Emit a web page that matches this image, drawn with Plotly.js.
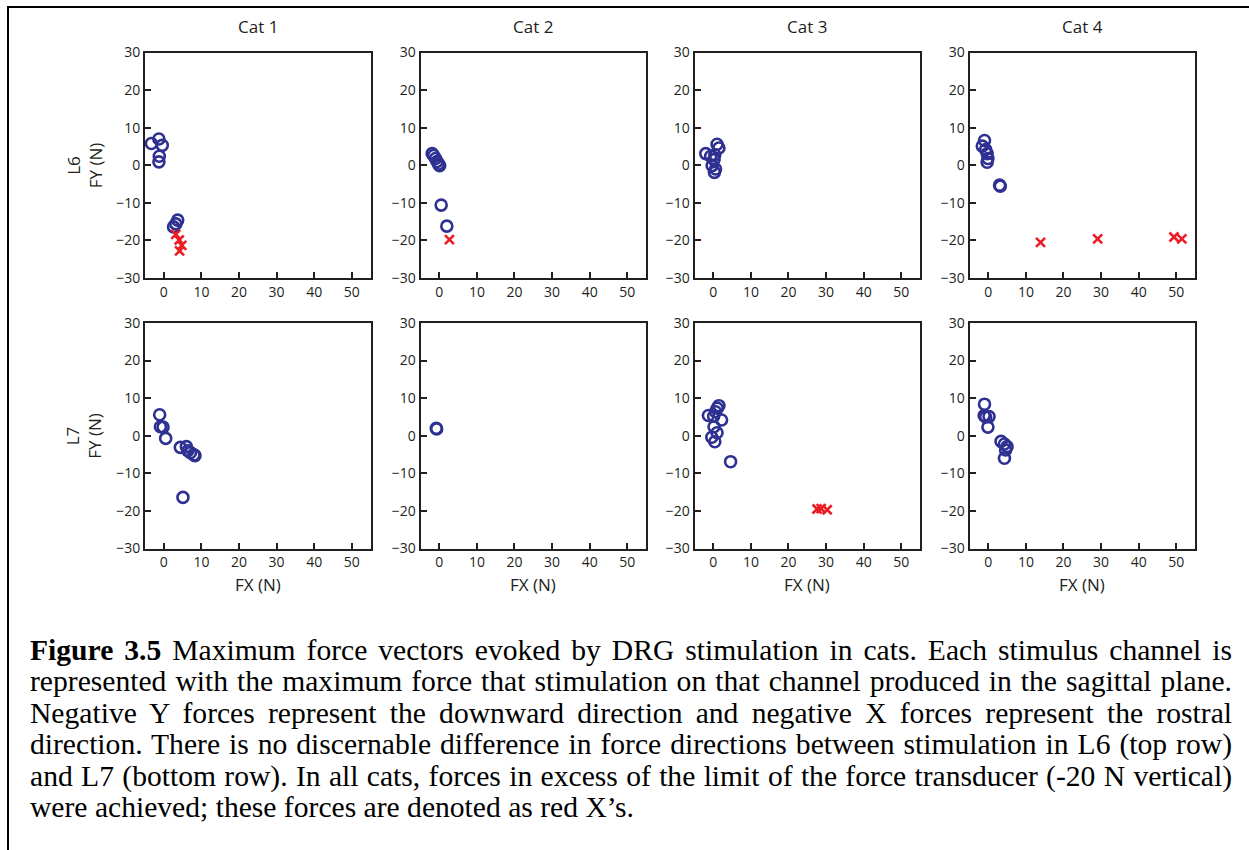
<!DOCTYPE html>
<html>
<head>
<meta charset="utf-8">
<script src="https://cdn.plot.ly/plotly-3.0.1.min.js"></script>
<style>
  html, body { margin: 0; padding: 0; background: #fff; overflow: hidden; }
  #wrap { position: relative; width: 1249px; height: 850px; }
  #chart { position: absolute; left: 0; top: 0; width: 1249px; height: 850px; }
  #frame { position: absolute; left: 7px; top: 6px; right: 0; bottom: 0;
           border-top: 2px solid #000; border-left: 2px solid #000; pointer-events: none; }
  #caption { position: absolute; left: 30px; top: 635px; width: 1202px;
             font-family: "Liberation Serif", "Times New Roman", serif; font-size: 29.6px;
             line-height: 31.4px; color: #000; }
  #caption div { text-align: justify; text-align-last: justify; white-space: normal; }
  #caption div.last { text-align: left; text-align-last: left; }
</style>
</head>
<body>
<div id="wrap">
  <div id="chart"></div>
  <div id="frame"></div>
  <div id="caption">
    <div><b>Figure 3.5</b> Maximum force vectors evoked by DRG stimulation in cats. Each stimulus channel is</div>
    <div>represented with the maximum force that stimulation on that channel produced in the sagittal plane.</div>
    <div>Negative Y forces represent the downward direction and negative X forces represent the rostral</div>
    <div>direction. There is no discernable difference in force directions between stimulation in L6 (top row)</div>
    <div>and L7 (bottom row). In all cats, forces in excess of the limit of the force transducer (-20 N vertical)</div>
    <div class="last">were achieved; these forces are denoted as red X’s.</div>
  </div>
</div>
<script>
// Column and row labels
const cats = ['Cat 1', 'Cat 2', 'Cat 3', 'Cat 4'];
const levels = ['L6', 'L7'];
const xTicks = [0, 10, 20, 30, 40, 50];
const yTicks = [-30, -20, -10, 0, 10, 20, 30];

// L6 channel maxima (N): circles = measured, crosses = beyond transducer limit
const l6Cat1CircFx = [-3.3, -1.3, -0.4, -1.2, -1.3, 3.7, 2.6, 3.2];
const l6Cat1CircFy = [5.8, 7.0, 5.3, 2.4, 0.9, -14.6, -16.4, -15.6];
const l6Cat1CrossFx = [3.2, 4.1, 4.8, 4.2];
const l6Cat1CrossFy = [-18.4, -19.9, -21.3, -22.8];

const l6Cat2CircFx = [-1.9, -1.5, -1.0, -0.6, -0.2, 0.1, 0.5, 2.0];
const l6Cat2CircFy = [3.1, 2.6, 1.8, 1.0, 0.3, -0.1, -10.6, -16.2];
const l6Cat2CrossFx = [2.7];
const l6Cat2CrossFy = [-19.8];

const l6Cat3CircFx = [-2.0, 1.0, 1.5, -0.7, 0.2, 0.4, -0.3, 0.3, 0.6];
const l6Cat3CircFy = [3.1, 5.6, 4.6, 2.4, 1.5, 2.8, -0.1, -1.9, -1.0];
const l6Cat3CrossFx = [];
const l6Cat3CrossFy = [];

const l6Cat4CircFx = [-1.0, -1.6, -0.7, -0.3, -0.1, -0.3, 3.2, 3.0];
const l6Cat4CircFy = [6.6, 5.1, 4.2, 3.1, 1.8, 0.8, -5.6, -5.3];
const l6Cat4CrossFx = [13.9, 29.1, 49.4, 51.5];
const l6Cat4CrossFy = [-20.5, -19.6, -19.1, -19.6];

// L7 channel maxima (N)
const l7Cat1CircFx = [-1.1, -0.9, -0.2, 0.5, 4.4, 6.0, 6.4, 7.1, 8.0, 8.3, 5.1];
const l7Cat1CircFy = [5.6, 2.4, 2.3, -0.7, -3.1, -2.9, -4.0, -4.5, -5.1, -5.3, -16.4];
const l7Cat1CrossFx = [];
const l7Cat1CrossFy = [];

const l7Cat2CircFx = [-0.8, -0.7];
const l7Cat2CircFy = [2.0, 1.8];
const l7Cat2CrossFx = [];
const l7Cat2CrossFy = [];

const l7Cat3CircFx = [-1.3, 1.5, 1.05, 0.6, 0.1, 2.2, 0.2, 1.0, -0.4, 0.4, 4.6];
const l7Cat3CircFy = [5.4, 8.0, 7.3, 6.4, 5.2, 4.2, 2.4, 0.8, -0.4, -1.6, -6.9];
const l7Cat3CrossFx = [27.6, 28.7, 30.3];
const l7Cat3CrossFy = [-19.5, -19.4, -19.7];

const l7Cat4CircFx = [-1.0, -1.1, 0.2, -0.7, -0.1, 3.4, 4.3, 5.0, 4.6, 4.3];
const l7Cat4CircFy = [8.4, 5.4, 5.1, 5.0, 2.3, -1.5, -2.2, -2.9, -3.8, -6.0];
const l7Cat4CrossFx = [];
const l7Cat4CrossFy = [];

const panels = [
  [l6Cat1CircFx, l6Cat1CircFy, l6Cat1CrossFx, l6Cat1CrossFy],
  [l6Cat2CircFx, l6Cat2CircFy, l6Cat2CrossFx, l6Cat2CrossFy],
  [l6Cat3CircFx, l6Cat3CircFy, l6Cat3CrossFx, l6Cat3CrossFy],
  [l6Cat4CircFx, l6Cat4CircFy, l6Cat4CrossFx, l6Cat4CrossFy],
  [l7Cat1CircFx, l7Cat1CircFy, l7Cat1CrossFx, l7Cat1CrossFy],
  [l7Cat2CircFx, l7Cat2CircFy, l7Cat2CrossFx, l7Cat2CrossFy],
  [l7Cat3CircFx, l7Cat3CircFy, l7Cat3CrossFx, l7Cat3CrossFy],
  [l7Cat4CircFx, l7Cat4CircFy, l7Cat4CrossFx, l7Cat4CrossFy]
];

const W = 1249, H = 850;
const colLeft = [145, 420.5, 694.5, 969.5];
const boxW = 225.5;
const rowTop = [52.5, 323];
const boxH = 225.5;

const blue = '#2E3192';
const red = '#ED1C24';
const ink = '#231F20';
const font = '"Open Sans", "Liberation Sans", sans-serif';

const traces = [];
const layout = {
  width: W, height: H,
  margin: {l: 0, r: 0, t: 0, b: 0},
  paper_bgcolor: '#fff', plot_bgcolor: '#fff',
  showlegend: false,
  font: {family: font, color: ink, size: 14},
  annotations: []
};

panels.forEach((p, i) => {
  const r = Math.floor(i / 4), c = i % 4;
  const n = i + 1;
  const xa = n === 1 ? 'x' : 'x' + n;
  const ya = n === 1 ? 'y' : 'y' + n;
  traces.push({
    type: 'scatter', mode: 'markers', x: p[0], y: p[1], xaxis: xa, yaxis: ya,
    marker: {symbol: 'circle-open', size: 11, color: blue, line: {width: 2.6, color: blue}},
    hoverinfo: 'x+y'
  });
  traces.push({
    type: 'scatter', mode: 'markers', x: p[2], y: p[3], xaxis: xa, yaxis: ya,
    marker: {symbol: 'x-thin-open', size: 9, color: red, line: {width: 2.6, color: red}},
    hoverinfo: 'x+y'
  });
  const common = {
    showgrid: false, zeroline: false, showline: true, mirror: true,
    linecolor: ink, linewidth: 2, ticks: 'inside', ticklen: 6, tickwidth: 2,
    tickcolor: ink, tickfont: {family: font, size: 14, color: ink}, fixedrange: true
  };
  layout['xaxis' + (n === 1 ? '' : n)] = Object.assign({}, common, {
    domain: [colLeft[c] / W, (colLeft[c] + boxW) / W],
    range: [-5, 55], tickmode: 'array', tickvals: xTicks, anchor: ya
  });
  layout['yaxis' + (n === 1 ? '' : n)] = Object.assign({}, common, {
    domain: [1 - (rowTop[r] + boxH) / H, 1 - rowTop[r] / H],
    range: [-30, 30], tickmode: 'array', tickvals: yTicks, anchor: xa,
    ticklabelstandoff: 0
  });
});

// Column titles and x-axis titles
cats.forEach((name, c) => {
  layout.annotations.push({
    text: name, xref: 'paper', yref: 'paper',
    x: (colLeft[c] + boxW / 2) / W, y: 1 - 27 / H,
    xanchor: 'center', yanchor: 'middle', showarrow: false,
    font: {family: font, size: 17, color: ink}
  });
  layout.annotations.push({
    text: 'FX (N)', xref: 'paper', yref: 'paper',
    x: (colLeft[c] + boxW / 2) / W, y: 1 - 584 / H,
    xanchor: 'center', yanchor: 'middle', showarrow: false,
    font: {family: font, size: 17, color: ink}
  });
});

// Row titles
levels.forEach((lv, r) => {
  layout.annotations.push({
    text: lv + '<br>FY (N)', xref: 'paper', yref: 'paper',
    x: 84 / W, y: 1 - (rowTop[r] + boxH / 2) / H,
    xanchor: 'center', yanchor: 'middle', showarrow: false, textangle: -90,
    font: {family: font, size: 17, color: ink}
  });
});

Plotly.newPlot('chart', traces, layout, {displayModeBar: false, staticPlot: true});
</script>
</body>
</html>
